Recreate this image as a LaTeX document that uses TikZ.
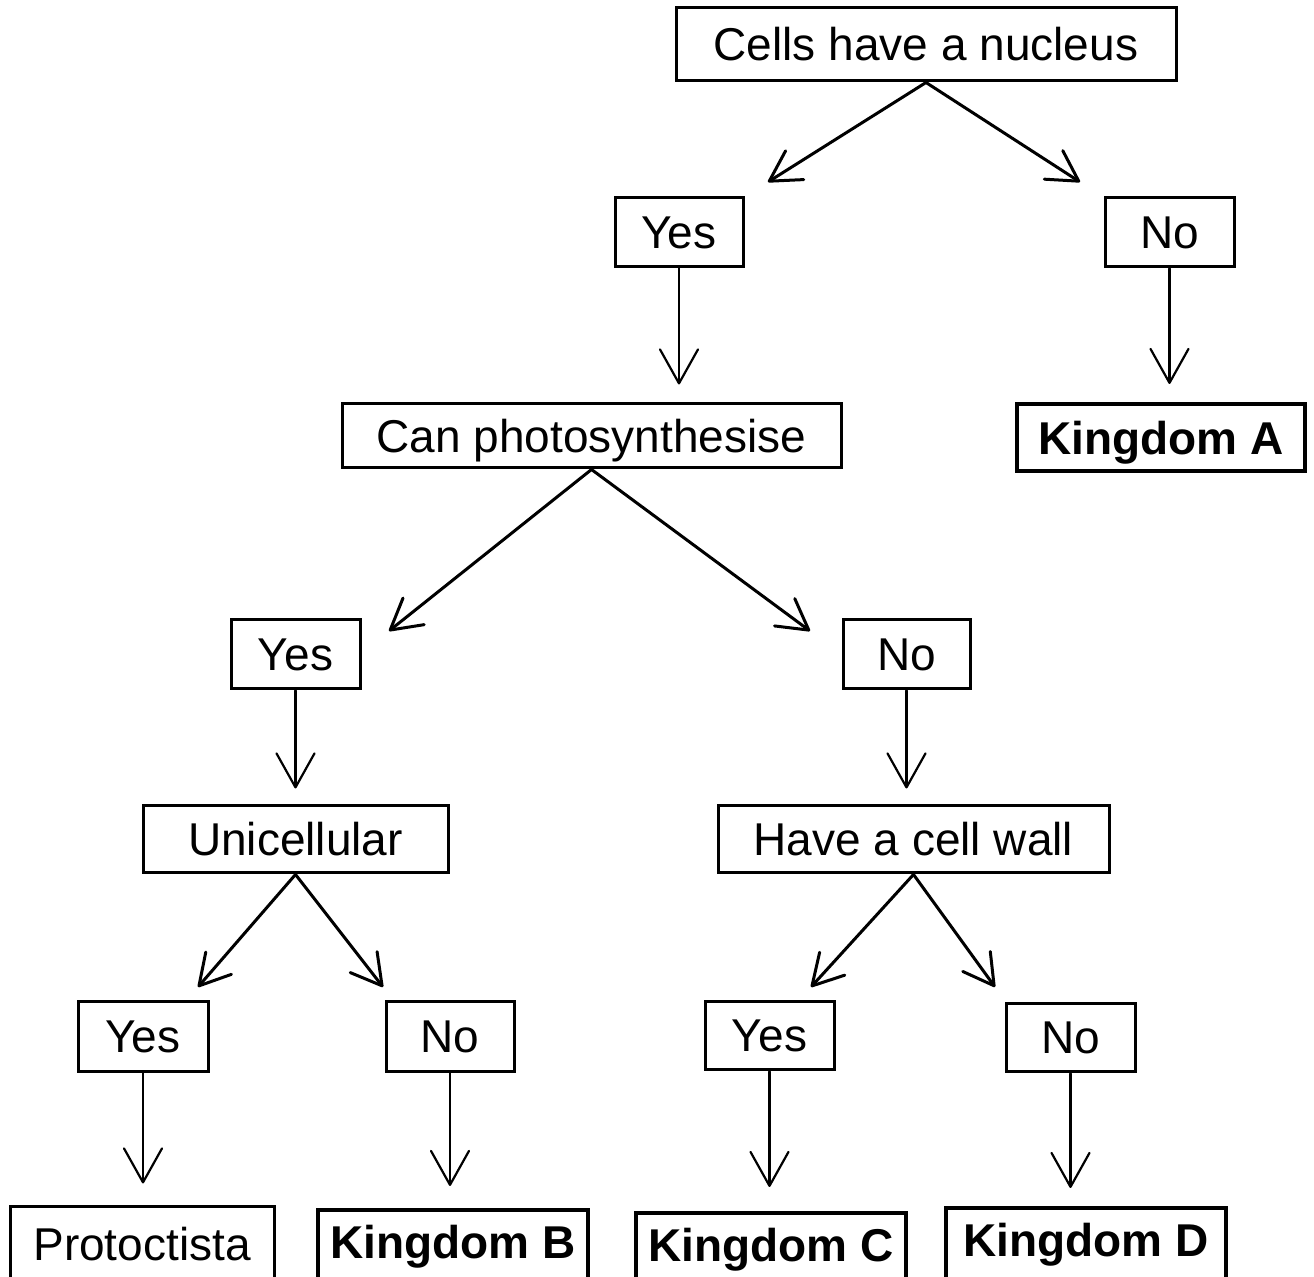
\documentclass[tikz,border=0pt]{standalone}
\usepackage{fontspec}
\setmainfont{Liberation Sans}
\usetikzlibrary{arrows.meta}
\tikzstyle{box}=[draw=black, line width=1.5pt, inner sep=0pt, font=\fontsize{23}{27}\selectfont]
\tikzstyle{kbox}=[box, line width=2pt, font=\fontsize{23}{27}\selectfont\bfseries]
\tikzstyle{arr}=[line width=1.5pt, line cap=round, -{Straight Barb[length=15pt,width=17pt,round]}]
\tikzstyle{varr}=[line width=1.1pt, line cap=round, -{Straight Barb[length=17pt,width=19pt,round]}]

\begin{document}
\begin{tikzpicture}[x=0.5pt,y=-0.5pt]
			\useasboundingbox (0,0) rectangle (1314,1277);
			\clip (0,0) rectangle (1314,1277);
			% question boxes
			\node[box, minimum width=250pt, minimum height=36.5pt] (cells) at (926,44.5) {Cells have a nucleus};
			\node[box, minimum width=249.5pt, minimum height=32pt, text depth=0pt] (photo) at (591.5,436) {Can photosynthesise};
			\node[box, minimum width=152.5pt, minimum height=33.5pt] (uni) at (295.5,839.5) {Unicellular};
			\node[box, minimum width=195.5pt, minimum height=33.5pt] (wall) at (913.5,839.5) {Have a cell wall};
			% answers
			\node[box, minimum width=64pt, minimum height=34.5pt] (yesA) at (679,232.5) {Yes};
			\node[box, minimum width=64.5pt, minimum height=34.5pt] (noA) at (1169.5,232.5) {No};
			\node[box, minimum width=64.5pt, minimum height=34.5pt] (yesB) at (295.5,654.5) {Yes};
			\node[box, minimum width=63.5pt, minimum height=34.5pt] (noB) at (906.5,654.5) {No};
			\node[box, minimum width=65pt, minimum height=35pt] (yesC) at (143,1037) {Yes};
			\node[box, minimum width=64pt, minimum height=35pt] (noC) at (450,1037) {No};
			\node[box, minimum width=64.5pt, minimum height=34pt] (yesD) at (769.5,1036) {Yes};
			\node[box, minimum width=64.5pt, minimum height=34pt] (noD) at (1070.5,1038) {No};
			% groups
			\node[kbox, minimum width=144pt, minimum height=33.5pt, text depth=0pt] (kingA) at (1161,437.5) {Kingdom A};
			\node[box, minimum width=132pt, minimum height=37pt] (prot) at (142,1244) {Protoctista};
			\node[kbox, minimum width=135pt, minimum height=37pt] (kingB) at (453,1247) {Kingdom B};
			\node[kbox, minimum width=135pt, minimum height=37pt] (kingC) at (771,1250) {Kingdom C};
			\node[kbox, minimum width=140pt, minimum height=37pt] (kingD) at (1086,1245) {Kingdom D};
			% arrow tips
			\coordinate (t1) at (768,182);
			\coordinate (t2) at (1080,182);
			\coordinate (t3) at (389,631);
			\coordinate (t4) at (810,631);
			\coordinate (t5) at (198,987);
			\coordinate (t6) at (383,987);
			\coordinate (t7) at (811,987);
			\coordinate (t8) at (995,987);
			\draw[arr] (cells.south)--(t1);
			\draw[arr] (cells.south)--(t2);
			\draw[arr] (photo.south)--(t3);
			\draw[arr] (photo.south)--(t4);
			\draw[arr] (uni.south)--(t5);
			\draw[arr] (uni.south)--(t6);
			\draw[arr] (wall.south)--(t7);
			\draw[arr] (wall.south)--(t8);
			\draw[varr] (yesA.south)--([yshift=9pt]photo.north -| yesA);
			\draw[varr] (noA.south)--([yshift=9pt]kingA.north -| noA);
			\draw[varr] (yesB.south)--([yshift=8pt]uni.north -| yesB);
			\draw[varr] (noB.south)--([yshift=8pt]wall.north -| noB);
			\draw[varr] (yesC.south)--([yshift=11pt]prot.north -| yesC);
			\draw[varr] (noC.south)--([yshift=11pt]kingB.north -| noC);
			\draw[varr] (yesD.south)--([yshift=12pt]kingC.north -| yesD);
			\draw[varr] (noD.south)--([yshift=9pt]kingD.north -| noD);
		\end{tikzpicture}
\end{document}
